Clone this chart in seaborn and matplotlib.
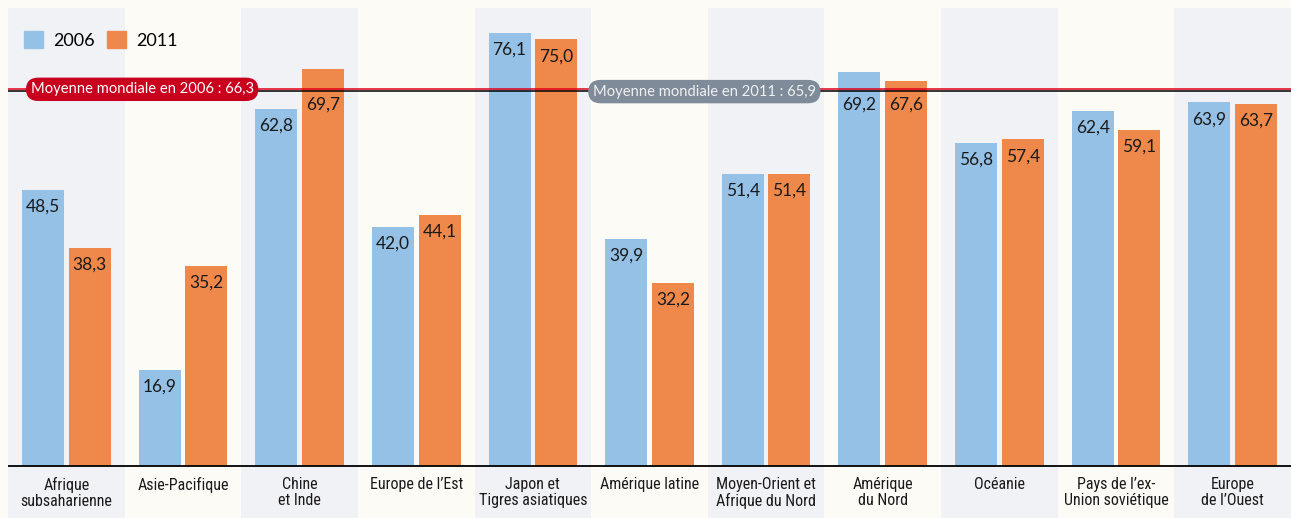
import pandas as pd
import matplotlib.pyplot as plt
import seaborn as sns
from matplotlib.patches import Patch

REGIONS = [
    "Afrique\nsubsaharienne", "Asie-Pacifique", "Chine\net Inde",
    "Europe de l\u2019Est", "Japon et\nTigres asiatiques", "Am\u00e9rique latine",
    "Moyen-Orient et\nAfrique du Nord", "Am\u00e9rique\ndu Nord", "Oc\u00e9anie",
    "Pays de l\u2019ex-\nUnion sovi\u00e9tique", "Europe\nde l\u2019Ouest",
]
VALUES_2006 = [48.5, 16.9, 62.8, 42.0, 76.1, 39.9, 51.4, 69.2, 56.8, 62.4, 63.9]
VALUES_2011 = [38.3, 35.2, 69.7, 44.1, 75.0, 32.2, 51.4, 67.6, 57.4, 59.1, 63.7]
YEARS = ["2006", "2011"]
MEAN_2006 = 66.3
MEAN_2011 = 65.9

BLUE = "#95c1e6"
ORANGE = "#ef884b"
RED = "#c8001e"
GREY_BOX = "#7f8b98"
BAND = "#f1f2f5"
CREAM = "#fcfbf6"

df = pd.DataFrame({
    "region": REGIONS * 2,
    "year": [YEARS[0]] * len(REGIONS) + [YEARS[1]] * len(REGIONS),
    "value": VALUES_2006 + VALUES_2011,
})

W, H = 1291, 518
PX = 5.69  # pixels per unit on the y axis
fig = plt.figure(figsize=(W / 100, H / 100), dpi=100, facecolor=CREAM)
ax = fig.add_axes([8 / W, 0, 1283 / W, 510 / H])
ax.set_facecolor(CREAM)

main_font = ["Lato", "DejaVu Sans"]
cond_font = ["Liberation Sans Narrow", "Roboto Condensed", "DejaVu Sans Condensed", "Roboto", "DejaVu Sans"]

n = len(REGIONS)
for i in range(0, n, 2):
    ax.axvspan(i - 0.5, i + 0.5, color=BAND, lw=0, zorder=0)

sns.barplot(data=df, x="region", y="value", hue="year", palette=[BLUE, ORANGE],
            width=0.8, gap=0.1, saturation=1, linewidth=0, ax=ax, zorder=2)

# value labels inside the bars, pushed under the average lines when they would cross them
for cont, vals in zip(ax.containers, [VALUES_2006, VALUES_2011]):
    for bar, v in zip(cont, vals):
        cx = bar.get_x() + bar.get_width() / 2
        y = v - 17 / PX
        top, bottom = y + 9 / PX, y - 9 / PX
        if top > MEAN_2011 - 2 / PX and bottom < MEAN_2006 + 2 / PX:
            y = MEAN_2011 - 14 / PX
        ax.text(cx, y, f"{v:.1f}".replace(".", ","), ha="center", va="center",
                fontsize=12.5, color="#1a1a1a", family=main_font, zorder=3)

ax.axhline(0, color="black", lw=1.3, zorder=3)
ax.axhline(MEAN_2006, color="#e2001a", lw=1.1, zorder=4)
ax.axhline(MEAN_2011, color="black", lw=1.1, zorder=4)

ax.text(0.65, MEAN_2006 - 0.1, "Moyenne mondiale en 2006 : 66,3", ha="center", va="center",
        fontsize=10.6, color="white", family=main_font, zorder=5,
        bbox=dict(boxstyle="round,pad=0.32,rounding_size=0.85", fc=RED, ec="none"))
ax.text(5.47, MEAN_2011 - 0.1, "Moyenne mondiale en 2011 : 65,9", ha="center", va="center",
        fontsize=10.6, color="#eef1f4", family=main_font, zorder=5,
        bbox=dict(boxstyle="round,pad=0.32,rounding_size=0.85", fc=GREY_BOX, ec="none"))

for i, name in enumerate(REGIONS):
    ax.text(i, -1.9, name, ha="center", va="top", fontsize=11.5, color="#1a1a1a",
            family=cond_font, linespacing=1.1)

handles = [Patch(color=BLUE), Patch(color=ORANGE)]
ax.legend(handles, YEARS, loc="upper left", bbox_to_anchor=(24 / W, 1 - 31 / H),
          bbox_transform=fig.transFigure, ncol=2, frameon=False,
          handlelength=1.05, handleheight=1.05, handletextpad=0.55, columnspacing=0.7,
          borderpad=0, borderaxespad=0, prop={"family": main_font, "size": 13})

ax.set_xlim(-0.5, n - 0.5)
ax.set_ylim(-52 / PX, 458 / PX)
ax.set_xticks([])
ax.set_yticks([])
ax.set_xlabel("")
ax.set_ylabel("")
for s in ax.spines.values():
    s.set_visible(False)

fig.savefig("out.png", dpi=100, facecolor=CREAM)
